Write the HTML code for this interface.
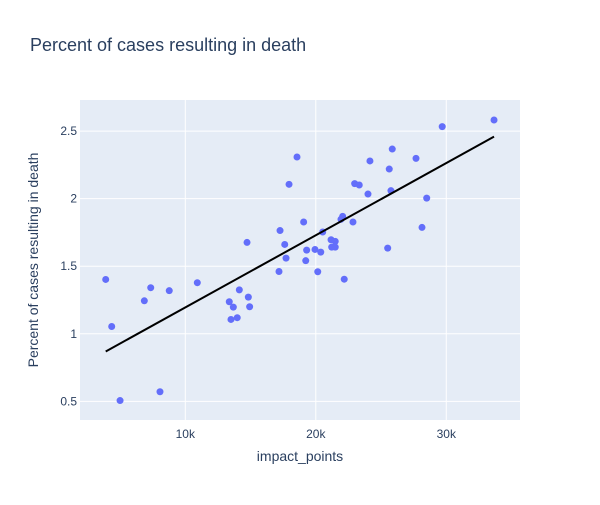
<!DOCTYPE html>
<html><head><meta charset="utf-8">
<style>
body{margin:0;background:#fff;font-family:"Liberation Sans",Arial,sans-serif;}
svg text{font-family:"Liberation Sans",Arial,sans-serif;fill:#2a3f5f;}
</style></head>
<body>
<svg id="chart" width="600" height="500">
<rect width="600" height="500" fill="#fff"/>
<text x="30" y="51" font-size="18">Percent of cases resulting in death</text>
<rect x="80" y="100" width="440" height="320" fill="#e5ecf6"/>
<g id="grid"></g>
<g id="marks"></g>
<g id="ticks"></g>
<text x="300" y="461" font-size="14" text-anchor="middle">impact_points</text>
<text transform="translate(38,260) rotate(-90)" font-size="14" text-anchor="middle">Percent of cases resulting in death</text>
</svg>
<script>
const xValues=[3.90,4.36,5.00,8.06,6.86,7.35,8.77,10.92,13.37,13.68,13.50,13.98,14.14,14.83,14.93,14.73,17.26,17.62,17.72,17.18,17.95,18.56,19.07,22.06,21.93,22.85,20.53,19.30,19.94,20.38,21.17,21.49,21.22,21.49,19.23,20.15,22.18,25.51,28.14,28.50,25.76,24.00,22.98,23.33,24.15,25.63,25.86,27.68,29.69,33.66].map(v=>v*1000);
const yValues=[1.402,1.054,0.506,0.571,1.244,1.341,1.319,1.378,1.237,1.197,1.106,1.119,1.325,1.271,1.200,1.676,1.764,1.661,1.560,1.461,2.106,2.308,1.827,1.869,1.847,1.827,1.753,1.619,1.624,1.604,1.696,1.684,1.641,1.641,1.541,1.459,1.404,1.634,1.787,2.004,2.059,2.034,2.111,2.101,2.279,2.219,2.367,2.298,2.533,2.582];
const xTicks=[10000,20000,30000];
const xTickLabels=["10k","20k","30k"];
const yTicks=[0.5,1,1.5,2,2.5];
const yTickLabels=["0.5","1","1.5","2","2.5"];
const xDomain=[1930,35650];
const yDomain=[0.362,2.730];

const X0=80,X1=520,Y0=420,Y1=100;
const sx=v=>X0+(v-xDomain[0])/(xDomain[1]-xDomain[0])*(X1-X0);
const sy=v=>Y0-(v-yDomain[0])/(yDomain[1]-yDomain[0])*(Y0-Y1);
const NS="http://www.w3.org/2000/svg";
function mk(tag,attrs,parent){const e=document.createElementNS(NS,tag);for(const k in attrs)e.setAttribute(k,attrs[k]);parent.appendChild(e);return e;}
const grid=document.getElementById('grid'),marks=document.getElementById('marks'),ticks=document.getElementById('ticks');
xTicks.forEach((t,i)=>{
  const l=mk('line',{x1:sx(t),x2:sx(t),y1:Y1,y2:Y0,stroke:'#fff','stroke-width':1},grid);
  
  
  const tx=mk('text',{x:sx(t),y:Y0+18,'font-size':12,'text-anchor':'middle'},ticks);
  tx.textContent=xTickLabels[i];
  
  
});
yTicks.forEach((t,i)=>{
  const l=mk('line',{x1:X0,x2:X1,y1:sy(t),y2:sy(t),stroke:'#fff','stroke-width':1},grid);
  
  
  const tx=mk('text',{x:X0-3,y:sy(t)+4,'font-size':12,'text-anchor':'end'},ticks);
  tx.textContent=yTickLabels[i];
  
  
});
xValues.forEach((x,i)=>{
  const c=mk('circle',{cx:sx(x),cy:sy(yValues[i]),r:3.5,fill:'#636efa'},marks);
  
  
});
// OLS trendline
const n=xValues.length;
const mx=xValues.reduce((a,b)=>a+b,0)/n,my=yValues.reduce((a,b)=>a+b,0)/n;
let sxy=0,sxx=0;xValues.forEach((x,i)=>{sxy+=(x-mx)*(yValues[i]-my);sxx+=(x-mx)*(x-mx);});
const slope=sxy/sxx,icpt=my-slope*mx;
const xmin=Math.min(...xValues),xmax=Math.max(...xValues);
const tl=mk('line',{x1:sx(xmin),y1:sy(icpt+slope*xmin),x2:sx(xmax),y2:sy(icpt+slope*xmax),stroke:'#000','stroke-width':2},marks);


</script>
</body></html>
